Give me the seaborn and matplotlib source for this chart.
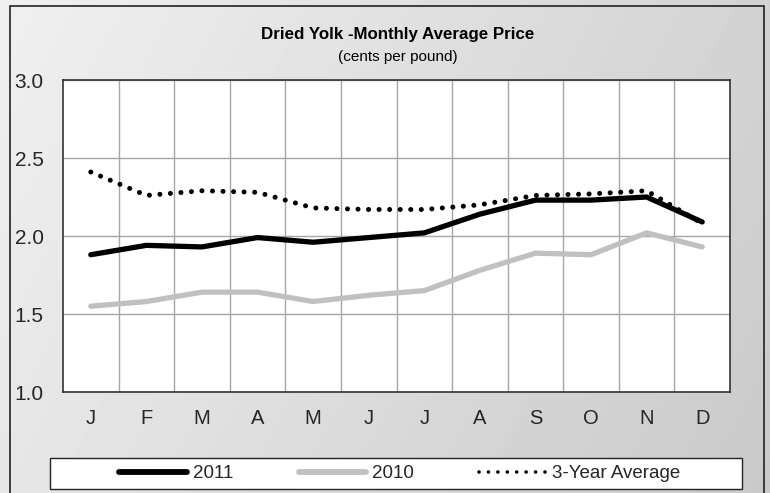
import numpy as np
import pandas as pd
import matplotlib
matplotlib.use('Agg')
import matplotlib.pyplot as plt
from matplotlib.patches import Rectangle
from matplotlib.ticker import FixedLocator, FormatStrFormatter
import seaborn as sns

# Datos (centavos por libra)
months = ['J', 'F', 'M', 'A', 'M', 'J', 'J', 'A', 'S', 'O', 'N', 'D']
price_2011 = [1.88, 1.94, 1.93, 1.99, 1.96, 1.99, 2.02, 2.14, 2.23, 2.23, 2.25, 2.09]
price_2010 = [1.55, 1.58, 1.64, 1.64, 1.58, 1.62, 1.65, 1.78, 1.89, 1.88, 2.02, 1.93]
avg_3yr = [2.41, 2.26, 2.29, 2.28, 2.18, 2.17, 2.17, 2.20, 2.26, 2.27, 2.29, 2.08]
series_names = ['2011', '2010', '3-Year Average']
y_ticks = [1.0, 1.5, 2.0, 2.5, 3.0]

sns.set_theme(style="white")
plt.rcParams['font.family'] = ['Liberation Sans', 'DejaVu Sans']

idx = np.arange(len(months))
df = pd.DataFrame({
    'month': np.tile(idx, 3),
    'price': price_2011 + price_2010 + avg_3yr,
    'series': np.repeat(series_names, len(months)),
})

fig = plt.figure(figsize=(7.7, 4.93), dpi=100)

# Fondo degradado gris
bg = fig.add_axes([0, 0, 1, 1], zorder=-10)
gx, gy = np.meshgrid(np.linspace(0, 1, 200), np.linspace(0, 1, 130))
shade = 0.94 - 0.15 * (0.75 * gx + 0.25 * gy)
bg.imshow(shade, cmap='gray', vmin=0, vmax=1, aspect='auto', extent=[0, 1, 0, 1])
bg.set_axis_off()
fig.patches.append(Rectangle((10 / 770, -0.02), 754 / 770, 487 / 493 + 0.02,
                             transform=fig.transFigure, fill=False,
                             edgecolor='#222222', lw=1.2, zorder=5))

ax = fig.add_axes([63 / 770, 101 / 493, 667 / 770, 312 / 493])
ax.set_facecolor('white')

palette = {'2011': 'black', '2010': '#C0C0C0', '3-Year Average': 'black'}
sns.lineplot(data=df, x='month', y='price', hue='series', hue_order=series_names,
             palette=palette, ax=ax, legend=False, sort=False)

widths = [3.8, 3.8, 3.6]
for line, w, name in zip(ax.lines, widths, series_names):
    line.set_linewidth(w)
    line.set_solid_capstyle('round')
    if name == '3-Year Average':
        line.set_linestyle((0, (0.01, 2.1)))
        line.set_dash_capstyle('round')
        line.set_zorder(4)

ax.set_xlim(-0.5, 11.5)
ax.set_ylim(1.0, 3.0)
ax.set_xticks(idx)
ax.set_xticklabels(months)
ax.xaxis.set_minor_locator(FixedLocator(np.arange(0.5, 11.5, 1.0)))
ax.set_yticks(y_ticks)
ax.yaxis.set_major_formatter(FormatStrFormatter('%.1f'))
ax.grid(True, which='minor', axis='x', color='#A6A6A6', lw=1.0)
ax.grid(True, which='major', axis='y', color='#A6A6A6', lw=1.0)
ax.set_axisbelow(True)
ax.tick_params(axis='x', which='both', length=0, pad=12, labelsize=14.5)
ax.tick_params(axis='y', length=0, pad=14, labelsize=15)
ax.set_xlabel('')
ax.set_ylabel('')
for s in ax.spines.values():
    s.set_color('#333333')
    s.set_linewidth(1.2)

# Títulos
fig.text(0.516, 1 - 35 / 493, 'Dried Yolk -Monthly Average Price', ha='center', va='center',
         fontsize=12.2, fontweight='bold', color='black')
fig.text(0.516, 1 - 57 / 493, '(cents per pound)', ha='center', va='center',
         fontsize=11, color='black')

# Leyenda con marco propio
fig.patches.append(Rectangle((50 / 770, 1 - 489 / 493), 692 / 770, 31 / 493,
                             transform=fig.transFigure, facecolor='white',
                             edgecolor='#222222', lw=1.0, zorder=6))
handles = [plt.Line2D([], [], color='black', lw=4.2, solid_capstyle='round'),
           plt.Line2D([], [], color='#C0C0C0', lw=4.2, solid_capstyle='round'),
           plt.Line2D([], [], color='black', lw=2.6, linestyle=(0, (0.01, 2.6)),
                      dash_capstyle='round')]
leg = fig.legend(handles, series_names, loc='center', ncol=3,
                 bbox_to_anchor=(400 / 770, 1 - 473.5 / 493),
                 fontsize=13.5, frameon=False,
                 handlelength=3.6, handletextpad=0.3, columnspacing=3.5,
                 borderaxespad=0)
leg.set_zorder(7)

fig.savefig('out.png', dpi=100)
plt.close(fig)
